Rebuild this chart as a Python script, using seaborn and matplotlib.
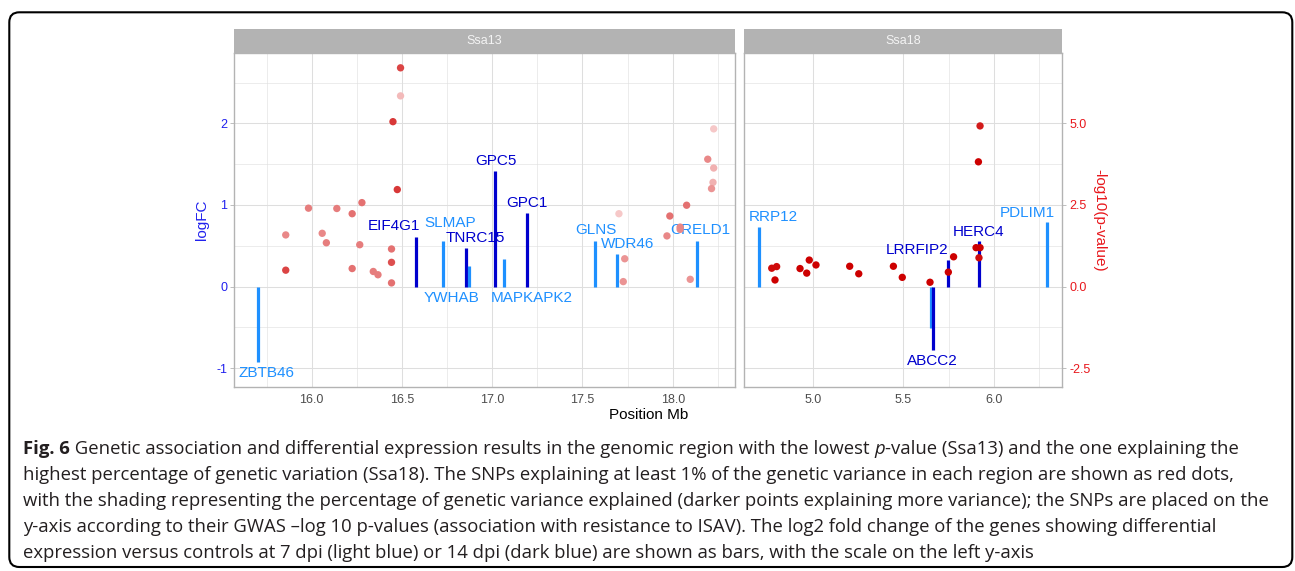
import numpy as np
import pandas as pd
import matplotlib
matplotlib.use("Agg")
import matplotlib.pyplot as plt
from matplotlib.patches import Rectangle, FancyBboxPatch
from matplotlib.colors import LinearSegmentedColormap
import seaborn as sns

# ---------------- data ----------------
panels = ["Ssa13", "Ssa18"]

# genes (bars): chromosome panel, position (Mb), logFC, time point
gene_panel = ["Ssa13"] * 11 + ["Ssa18"] * 6
gene_name = ["ZBTB46", "EIF4G1", "SLMAP", "TNRC15", "YWHAB", "GPC5", "MAPKAPK2",
             "GPC1", "GLNS", "WDR46", "CRELD1",
             "RRP12", "ABCC2", "ABCC2", "LRRFIP2", "HERC4", "PDLIM1"]
gene_pos = [15.701, 16.577, 16.730, 16.853, 16.874, 17.017, 17.067,
            17.191, 17.569, 17.692, 18.136,
            4.704, 5.652, 5.665, 5.745, 5.916, 6.291]
gene_logfc = [-0.93, 0.606, 0.557, 0.471, 0.25, 1.413, 0.332,
              0.905, 0.561, 0.393, 0.561,
              0.725, -0.51, -0.78, 0.325, 0.56, 0.785]
gene_dpi = ["7", "14", "7", "14", "7", "14", "7",
            "14", "7", "7", "7",
            "7", "7", "14", "14", "14", "7"]
# label anchor (as placed by the repel step in the original), one per labelled gene
label_show = [True, True, True, True, True, True, True, True, True, True, True,
              True, False, True, True, True, True]
label_x = [15.749, 16.454, 16.768, 16.906, 16.775, 17.018, 17.220,
           17.194, 17.572, 17.751, 18.155,
           4.785, 5.66, 5.66, 5.574, 5.917, 6.185]
label_y = [-1.056, 0.741, 0.775, 0.598, -0.137, 1.538, -0.137,
           1.027, 0.690, 0.517, 0.696,
           0.848, -0.909, -0.909, 0.447, 0.664, 0.904]

# SNPs: panel, position (Mb), -log10(p), relative share of genetic variance (shading)
snp13_pos = [16.492, 16.492, 16.450, 16.474, 15.982, 16.139, 16.224, 16.278,
             18.227, 18.194, 18.227, 18.223, 18.215, 18.077, 17.702, 17.984,
             15.856, 16.058, 16.081, 16.266, 15.856, 16.224, 16.341, 16.367,
             16.442, 16.442, 16.442, 17.968, 18.041, 18.041, 17.734, 17.726, 18.097]
snp13_p = [6.70, 5.84, 5.05, 2.97, 2.40, 2.39, 2.23, 2.57,
           4.83, 3.90, 3.63, 3.19, 3.00, 2.49, 2.23, 2.16,
           1.58, 1.63, 1.34, 1.28, 0.50, 0.55, 0.46, 0.36,
           1.15, 0.74, 0.11, 1.55, 1.82, 1.75, 0.85, 0.15, 0.22]
snp13_var = [0.70, 0.18, 0.75, 0.75, 0.45, 0.45, 0.50, 0.50,
             0.12, 0.40, 0.22, 0.22, 0.35, 0.50, 0.12, 0.50,
             0.40, 0.40, 0.45, 0.45, 0.70, 0.50, 0.45, 0.45,
             0.50, 0.65, 0.50, 0.40, 0.40, 0.40, 0.35, 0.35, 0.35]

snp18_pos = [5.923, 5.914, 4.774, 4.801, 4.792, 4.930, 4.981, 4.967, 5.018,
             5.204, 5.254, 5.445, 5.494, 5.647, 5.748, 5.777, 5.901, 5.923, 5.917]
snp18_p = [4.92, 3.82, 0.56, 0.61, 0.20, 0.55, 0.81, 0.41, 0.66,
           0.62, 0.39, 0.62, 0.28, 0.13, 0.44, 0.91, 1.19, 1.19, 0.88]
snp18_var = [0.88, 1.0, 0.95, 0.95, 1.0, 1.0, 1.0, 1.0, 1.0,
             1.0, 1.0, 1.0, 1.0, 1.0, 1.0, 1.0, 1.0, 1.0, 0.95]

x_breaks = {"Ssa13": [16.0, 16.5, 17.0, 17.5, 18.0], "Ssa18": [5.0, 5.5, 6.0]}
x_minor = {"Ssa13": [15.75, 16.25, 16.75, 17.25, 17.75, 18.25], "Ssa18": [5.75, 6.25]}
x_limits = {"Ssa13": (15.571, 18.345), "Ssa18": (4.621, 6.375)}
y_breaks = [-1, 0, 1, 2]
y_minor = [-0.5, 0.5, 1.5, 2.5]
p_breaks = [-2.5, 0.0, 2.5, 5.0]
y_limits = (-1.228, 2.858)
p_scale = 2.5

caption_lines = [
    [("Fig. 6", "bold", "normal"),
     (" Genetic association and differential expression results in the genomic region with the lowest ", "normal", "normal"),
     ("p", "normal", "italic"),
     ("-value (Ssa13) and the one explaining the", "normal", "normal")],
    [("highest percentage of genetic variation (Ssa18). The SNPs explaining at least 1% of the genetic variance in each region are shown as red dots,", "normal", "normal")],
    [("with the shading representing the percentage of genetic variance explained (darker points explaining more variance); the SNPs are placed on the", "normal", "normal")],
    [("y-axis according to their GWAS \u2013log 10 p-values (association with resistance to ISAV). The log2 fold change of the genes showing differential", "normal", "normal")],
    [("expression versus controls at 7 dpi (light blue) or 14 dpi (dark blue) are shown as bars, with the scale on the left y-axis", "normal", "normal")],
]

genes = pd.DataFrame(dict(panel=gene_panel, gene=gene_name, pos=gene_pos,
                          logfc=gene_logfc, dpi=gene_dpi, show=label_show,
                          lx=label_x, ly=label_y))
snps = pd.concat([
    pd.DataFrame(dict(panel="Ssa13", pos=snp13_pos, p=snp13_p, var=snp13_var)),
    pd.DataFrame(dict(panel="Ssa18", pos=snp18_pos, p=snp18_p, var=snp18_var)),
], ignore_index=True)

# ---------------- style ----------------
sns.set_theme(style="white")
plt.rcParams["font.family"] = ["Liberation Sans", "DejaVu Sans"]

DPI = 100
W, H = 1295, 571
fig = plt.figure(figsize=(W / DPI, H / DPI), dpi=DPI)

dpi_colors = {"7": "#1E90FF", "14": "#0000CD"}
grid_c = "#DEDEDE"
border_c = "#B3B3B3"
red_cmap = LinearSegmentedColormap.from_list("snp", ["#FBE3E3", "#CD0000"])

def px2fig(x0, x1, y0, y1):
    return [x0 / W, 1 - y1 / H, (x1 - x0) / W, (y1 - y0) / H]

panel_px = {"Ssa13": (234.3, 735.0), "Ssa18": (744.0, 1062.0)}
top_px, bot_px, strip_px = 53.3, 386.7, 29.0

axes = {}
for name in panels:
    x0, x1 = panel_px[name]
    ax = fig.add_axes(px2fig(x0, x1, top_px, bot_px))
    axes[name] = ax
    ax.set_xlim(*x_limits[name])
    ax.set_ylim(*y_limits)
    ax.set_facecolor("white")
    # grid
    xb = x_breaks[name]
    ax.set_xticks(xb)
    ax.set_xticklabels([f"{v:.1f}" for v in xb])
    ax.set_xticks(x_minor[name], minor=True)
    ax.set_yticks(y_breaks)
    ax.set_yticks(y_minor, minor=True)
    ax.grid(True, which="major", color=grid_c, lw=0.75, zorder=0)
    ax.grid(True, which="minor", color=grid_c, lw=0.4, zorder=0)
    ax.set_axisbelow(True)
    for s in ax.spines.values():
        s.set_color(border_c)
        s.set_linewidth(1.0)
    ax.tick_params(axis="x", which="major", length=2.75, color=border_c, width=0.6,
                   labelsize=9, labelcolor="#4D4D4D", pad=2.5)
    ax.tick_params(axis="both", which="minor", length=0)
    if name == "Ssa13":
        ax.tick_params(axis="y", which="major", length=2.75, color=border_c, width=0.6,
                       labelsize=9, labelcolor="#2020EE", pad=2.5)
        ax.set_yticklabels([str(v) for v in y_breaks])
        ax.set_ylabel("logFC", color="#2020EE", fontsize=11)
        ax.yaxis.set_label_coords(-0.0505, 0.5)
    else:
        ax.tick_params(axis="y", which="major", length=0, labelleft=False)
    ax.set_xlabel("")

    # bars
    g = genes[genes.panel == name]
    ax.vlines(g.pos, 0, g.logfc, colors=[dpi_colors[d] for d in g.dpi],
              lw=2.3, zorder=3, capstyle="butt")
    for _, r in g[g.show].iterrows():
        ax.text(r.lx, r.ly, r.gene, color=dpi_colors[r.dpi], fontsize=11,
                ha="center", va="center", zorder=4)

    # strip
    strip_h = (top_px - strip_px) / (bot_px - top_px)
    ax.add_patch(Rectangle((0, 1), 1, strip_h, transform=ax.transAxes,
                           facecolor="#B3B3B3", edgecolor="none", clip_on=False))
    ax.text(0.5, 1 + strip_h / 2, name, transform=ax.transAxes, ha="center",
            va="center", color="#F4F4F4", fontsize=9)

    # SNP points on a twin axis in -log10(p) units
    axr = ax.twinx()
    axr.set_ylim(y_limits[0] * p_scale, y_limits[1] * p_scale)
    s = snps[snps.panel == name]
    sns.scatterplot(data=s, x="pos", y="p", hue="var", palette=red_cmap,
                    hue_norm=(0.0, 1.0), s=28, linewidth=0, legend=False,
                    ax=axr, zorder=5)
    axr.set_xlim(*x_limits[name])
    axr.set_xlabel("")
    axr.grid(False)
    for sp in axr.spines.values():
        sp.set_visible(False)
    if name == "Ssa18":
        axr.set_yticks(p_breaks)
        axr.set_yticklabels([f"{v:.1f}" for v in p_breaks])
        axr.tick_params(axis="y", length=2.75, color=border_c, width=0.6,
                        labelsize=9, labelcolor="#E8171C", pad=2.5)
        axr.set_ylabel("-log10(p-value)", color="#E8171C", fontsize=11,
                       rotation=270, va="bottom")
        axr.yaxis.set_label_coords(1.097, 0.5)
    else:
        axr.set_yticks([])
        axr.set_ylabel("")

fig.text(648.2 / W, 1 - 415 / H, "Position Mb", ha="center", va="center",
         fontsize=11, color="black")

# rounded frame around the figure
fig.patches.append(FancyBboxPatch((0.093, 0.04), 12.83, 5.547,
                                  boxstyle="round,pad=0,rounding_size=0.1",
                                  transform=fig.dpi_scale_trans, fill=False,
                                  edgecolor="black", lw=1.5))

# caption
renderer = fig.canvas.get_renderer()
cap_fs = 13.3
line_y = [447, 473, 499, 525, 551]
for runs, ly in zip(caption_lines, line_y):
    x = 23.0
    for txt, weight, style in runs:
        t = fig.text(x / W, 1 - ly / H, txt, fontsize=cap_fs, fontweight=weight,
                     fontstyle=style, family=["Open Sans", "DejaVu Sans"],
                     color="#231F20", ha="left", va="center_baseline")
        bb = t.get_window_extent(renderer=renderer)
        x += bb.width

fig.savefig("out.png", dpi=DPI)
